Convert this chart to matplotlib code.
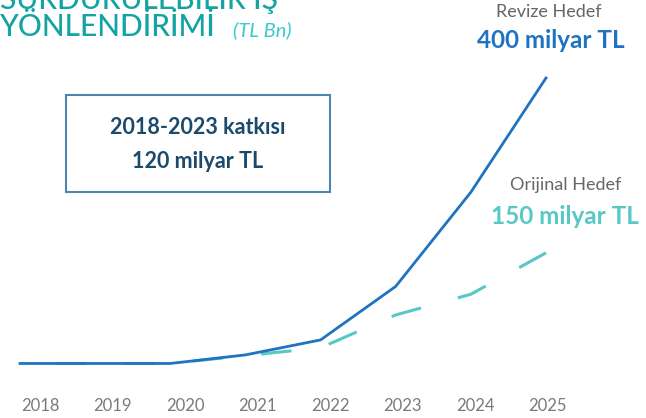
import matplotlib.pyplot as plt
from matplotlib.patches import Rectangle
from matplotlib.transforms import blended_transform_factory

years = ["2018", "2019", "2020", "2021", "2022", "2023", "2024", "2025"]
revize = [0, 0, 0, 12, 33, 108, 240, 400]
orijinal = [0, 0, 0, 11, 22, 68, 97, 155]

BLUE = "#1f73c1"
TEAL = "#56c8c6"
TITLE = "#14a3a3"
NAVY = "#1b4a6b"
GRAY = "#666666"

plt.rcParams['font.family'] = ['Lato', 'DejaVu Sans']

fig = plt.figure(figsize=(6.46, 4.18), dpi=100)
ax = fig.add_axes([0, 0, 1, 1])
ax.set_xlim(-0.266, 8.331)
ax.set_ylim(-76.4, 509.3)
ax.axis('off')

x = list(range(len(years)))
# dashed line drawn from the 2025 end so a dash finishes on the last point
ax.plot(x[::-1], orijinal[::-1], color=TEAL, lw=2.2, dashes=(10, 12.5), zorder=2)
ax.plot(x, revize, color=BLUE, lw=2.0, zorder=3)

# year labels along the bottom (slightly tighter spacing than the points)
trans = blended_transform_factory(ax.transData, ax.transAxes)
for i, yr in enumerate(years):
    ax.text(0.266 + i * 0.965, 12 / 418, yr, transform=trans,
            ha='center', va='center', fontsize=12, color="#7a7a7a")

# title (first line cut by the top edge)
fig.text(0, 418 - 9, "SÜRDÜRÜLEBİLİR İŞ", transform=None, ha='left', va='baseline',
         fontsize=21.5, color=TITLE, fontweight='medium')
fig.text(0, 418 - 36, "YÖNLENDİRİMİ", transform=None, ha='left', va='baseline',
         fontsize=21.5, color=TITLE, fontweight='medium')
fig.text(233, 418 - 36, "(TL Bn)", transform=None, ha='left', va='baseline',
         fontsize=14.5, color="#3cc8cc", style='italic')

# annotations on the right
fig.text(549, 418 - 12, "Revize Hedef", transform=None, ha='center', va='center',
         fontsize=13, color=GRAY)
fig.text(551, 418 - 40, "400 milyar TL", transform=None, ha='center', va='center',
         fontsize=17.5, color=BLUE, fontweight='bold')
fig.text(566, 418 - 185, "Orijinal Hedef", transform=None, ha='center', va='center',
         fontsize=13, color=GRAY)
fig.text(565, 418 - 216, "150 milyar TL", transform=None, ha='center', va='center',
         fontsize=17.5, color=TEAL, fontweight='bold')

# box
fig.patches.append(Rectangle((66, 418 - 192), 264, 97, transform=None, fill=False,
                             edgecolor="#4a86b0", lw=1.5))
fig.text(198, 418 - 127, "2018-2023 katkısı", transform=None, ha='center', va='center',
         fontsize=15.5, color=NAVY, fontweight='bold')
fig.text(198, 418 - 162, "120 milyar TL", transform=None, ha='center', va='center',
         fontsize=15.5, color=NAVY, fontweight='bold')

fig.savefig("out.png", dpi=100)
